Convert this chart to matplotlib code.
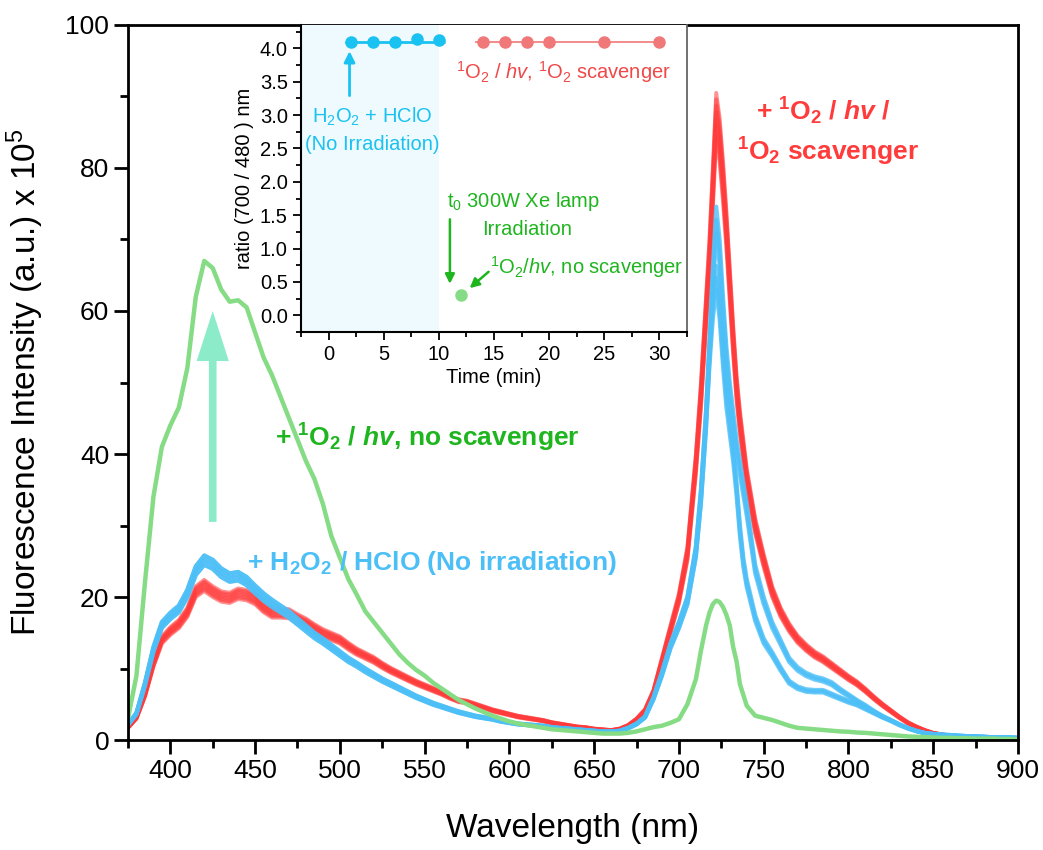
import numpy as np
import matplotlib
matplotlib.use('Agg')
import matplotlib.pyplot as plt
from matplotlib.ticker import MultipleLocator, FormatStrFormatter
from matplotlib.patches import FancyArrow

plt.rcParams['font.family'] = ['Liberation Sans', 'DejaVu Sans']
plt.rcParams['mathtext.fontset'] = 'custom'
plt.rcParams['mathtext.rm'] = 'Liberation Sans'
plt.rcParams['mathtext.it'] = 'Liberation Sans:italic'
plt.rcParams['mathtext.bf'] = 'Liberation Sans:bold'
plt.rcParams['mathtext.bfit'] = 'Liberation Sans:italic:bold'

# wavelength grid (nm), finer around the 722 nm band
wl = (list(range(375, 711, 5))
      + [713, 716, 718, 720, 722, 724, 726, 728, 730, 732, 734, 736, 738, 740]
      + list(range(745, 901, 5)))

# + 1O2 / hv / 1O2 scavenger (highest scan of the red group)
red_top = [1.8, 3.2, 6.5, 11, 14.5, 15.8, 16.8, 18.5, 21.5, 22.4,
           21.5, 20.8, 20.6, 21.2, 21.0, 20.4, 19.2, 18.4, 18.4, 18.3,
           17.6, 17.0, 16.2, 15.5, 15.0, 14.5, 13.6, 12.8, 12.2, 11.6,
           10.8, 10.1, 9.5, 8.9, 8.3, 7.8, 7.3, 6.8, 6.2, 5.7,
           5.5, 5.1, 4.7, 4.3, 4.0, 3.7, 3.4, 3.2, 3.0, 2.8,
           2.5, 2.3, 2.1, 1.9, 1.8, 1.6, 1.5, 1.4, 1.6, 2.1,
           3.0, 4.3, 7.0, 11.5, 16, 20.5, 27, 40,
           50, 62, 70, 80, 90.5, 87, 81, 74, 66, 58, 51, 46, 42, 38,
           31, 26, 21.5, 18.5, 16.3, 14.6, 13.4, 12.4, 11.7, 10.8,
           9.9, 9.0, 8.2, 7.2, 6.1, 5.1, 4.2, 3.3, 2.5, 1.9,
           1.4, 1.0, 0.8, 0.6, 0.5, 0.45, 0.4, 0.35, 0.3, 0.3, 0.25, 0.2]
# relative intensity of the repeated red scans
red_scan_scale = [1.00, 0.99, 0.98, 0.97, 0.96, 0.95, 0.94, 0.93]

# + H2O2 / HClO, no irradiation: common part 375-716 nm
blue_left = [2.2, 3.8, 8, 13, 16.5, 17.8, 18.8, 21, 24.3, 25.8,
             25.2, 24, 23.3, 23.5, 22.8, 21.6, 20.5, 19.6, 18.8, 18,
             17, 16, 15, 14.2, 13.3, 12.4, 11.5, 10.8, 10, 9.3,
             8.6, 8.0, 7.4, 6.8, 6.2, 5.7, 5.2, 4.8, 4.4, 4.0,
             3.7, 3.4, 3.2, 3.0, 2.7, 2.5, 2.3, 2.2, 2.1, 2.0,
             1.8, 1.7, 1.6, 1.5, 1.4, 1.3, 1.2, 1.2, 1.3, 1.7,
             2.3, 3.3, 6.0, 9.5, 13.5, 16.5, 20, 27,
             35, 46]
# two blue scans, 718-900 nm
blue_a_tail = [56, 66, 74.6, 70, 62, 55, 50, 46, 42, 39, 36, 33,
               24.5, 20, 16.5, 14, 11.5, 10.2, 9.4, 8.9, 8.6, 8.1,
               7.2, 6.4, 5.6, 4.9, 4.1, 3.4, 2.8, 2.2, 1.7, 1.3,
               1.0, 0.85, 0.75, 0.7, 0.6, 0.55, 0.5, 0.45, 0.4, 0.4, 0.35, 0.3]
blue_b_tail = [55, 62, 66.3, 62, 55, 49, 45, 41, 36, 30, 25.5, 22.5,
               17.5, 14.2, 12.3, 10.2, 8.3, 7.5, 7.1, 7.0, 7.0, 6.5,
               6.0, 5.5, 5.1, 4.5, 3.9, 3.3, 2.8, 2.2, 1.7, 1.3,
               1.0, 0.85, 0.75, 0.7, 0.6, 0.55, 0.5, 0.45, 0.4, 0.4, 0.35, 0.3]
blue_scan_scale = [1.0, 0.975, 0.95]

# + 1O2 / hv, no scavenger
green = [3.0, 9, 22, 34, 41, 44, 46.5, 52, 62, 67,
         66, 63, 61.3, 61.5, 60.5, 57, 53.5, 51, 48, 45,
         42, 39, 36.5, 33, 28.5, 25.5, 22.5, 20.3, 18, 16.5,
         15, 13.5, 12, 10.8, 9.8, 9, 8, 7.2, 6.4, 5.6,
         5, 4.4, 3.9, 3.4, 3.0, 2.6, 2.3, 2.1, 1.9, 1.7,
         1.5, 1.4, 1.3, 1.2, 1.1, 1.0, 0.9, 0.9, 0.9, 1.0,
         1.2, 1.5, 1.8, 2.0, 2.4, 2.9, 5, 8.5,
         12.5, 16, 17.8, 19, 19.5, 19.3, 18.6, 17.5, 16, 13, 11, 7.8, 6.3, 4.8,
         3.4, 3.1, 2.8, 2.4, 2.0, 1.7, 1.6, 1.5, 1.4, 1.3,
         1.2, 1.15, 1.05, 1.0, 0.9, 0.8, 0.7, 0.6, 0.5, 0.45,
         0.4, 0.35, 0.3, 0.3, 0.25, 0.25, 0.2, 0.2, 0.2, 0.15, 0.15, 0.1]

# inset: ratio (700/480) vs time
t_blue = [2, 4, 6, 8, 10]
r_blue = [4.10, 4.09, 4.09, 4.14, 4.13]
t_red = [14, 16, 18, 20, 25, 30]
r_red = [4.09, 4.09, 4.09, 4.09, 4.09, 4.09]
t_green = [12]
r_green = [0.3]

RED = '#ff3b3b'
BLUE = '#4dbff7'
GREEN = '#85dc85'

fig = plt.figure(figsize=(10.43, 8.5), dpi=100)
ax = fig.add_axes([0.1227, 0.1294, 0.8533, 0.8412])

wl_arr = np.array(wl)
for s in red_scan_scale:
    ax.plot(wl_arr, np.array(red_top) * s, color=RED, lw=2.8, alpha=0.55,
            solid_joinstyle='round')
for s in blue_scan_scale:
    ax.plot(wl_arr, np.array(blue_left + blue_a_tail) * s, color=BLUE, lw=3, alpha=0.8,
            solid_joinstyle='round')
    ax.plot(wl_arr, np.array(blue_left + blue_b_tail) * s, color=BLUE, lw=3, alpha=0.8,
            solid_joinstyle='round')
ax.plot(wl_arr, green, color=GREEN, lw=3.2, solid_joinstyle='round')

ax.add_patch(FancyArrow(425, 30.5, 0, 29.5, width=4.5, head_width=19, head_length=7,
                        length_includes_head=True, color='#3fe0a8', alpha=0.6, lw=0))

ax.text(462, 42.2, r'+ $\mathbf{{}^{1}O_{2}}$ / $\mathbfit{hv}$, no scavenger',
        color='#1fb51f', fontsize=19, fontweight='bold', va='center', ha='left')
ax.text(445, 24.8, r'+ $\mathbf{H_{2}O_{2}}$ / HClO (No irradiation)',
        color=BLUE, fontsize=19, fontweight='bold', va='center', ha='left')
ax.text(785, 87.9, r'+ $\mathbf{{}^{1}O_{2}}$ / $\mathbfit{hv}$ /',
        color=RED, fontsize=19, fontweight='bold', va='center', ha='center')
ax.text(788, 82.3, r'$\mathbf{{}^{1}O_{2}}$ scavenger',
        color=RED, fontsize=19, fontweight='bold', va='center', ha='center')

ax.set_xlim(375, 900)
ax.set_ylim(0, 100)
ax.xaxis.set_major_locator(MultipleLocator(50))
ax.xaxis.set_minor_locator(MultipleLocator(25))
ax.yaxis.set_major_locator(MultipleLocator(20))
ax.yaxis.set_minor_locator(MultipleLocator(10))
ax.tick_params(which='both', direction='out', width=2, labelsize=19, top=False, right=False)
ax.tick_params(which='major', length=10)
ax.tick_params(which='minor', length=6)
for sp in ax.spines.values():
    sp.set_linewidth(2)
ax.set_xlabel('Wavelength (nm)', fontsize=24, labelpad=22)
ax.set_ylabel(r'Fluorescence Intensity (a.u.) x 10$^{5}$', fontsize=24, labelpad=14)

# inset
ins = fig.add_axes([0.2886, 0.6094, 0.3701, 0.3612])
ins.axvspan(-2.5, 10, color='#eefafd', lw=0)
ins.hlines(4.10, 1.5, 10.6, color='#19c2f0', lw=2)
ins.plot(t_blue, r_blue, 'o', color='#19c2f0', ms=8)
ins.hlines(4.09, 13.3, 30.4, color='#f07878', lw=1.2)
ins.plot(t_red, r_red, 'o', color='#f07878', ms=8)
ins.plot(t_green, r_green, 'o', color='#86dc86', ms=8)

ins.annotate('', xy=(1.9, 4.0), xytext=(1.9, 3.25),
             arrowprops=dict(arrowstyle='-|>', color='#19c2f0', lw=2, mutation_scale=16))
ins.text(4.0, 2.98, r'$\mathrm{H_{2}O_{2}}$ + HClO', color='#19c2f0', fontsize=14.5,
         ha='center', va='center')
ins.text(4.0, 2.56, '(No Irradiation)', color='#19c2f0', fontsize=14.5, ha='center', va='center')
ins.text(21.3, 3.64, r'$\mathrm{{}^{1}O_{2}}$ / $\mathit{hv}$, $\mathrm{{}^{1}O_{2}}$ scavenger',
         color='#f04848', fontsize=14.5, ha='center', va='center')
ins.text(10.7, 1.71, r't$_{0}$ 300W Xe lamp', color='#1fb51f', fontsize=14.5, ha='left', va='center')
ins.text(18.0, 1.28, 'Irradiation', color='#1fb51f', fontsize=14.5, ha='center', va='center')
ins.text(14.6, 0.73, r'$\mathrm{{}^{1}O_{2}}$/$\mathit{hv}$, no scavenger', color='#1fb51f',
         fontsize=14.5, ha='left', va='center')
ins.annotate('', xy=(11.0, 0.43), xytext=(11.0, 1.48),
             arrowprops=dict(arrowstyle='-|>', color='#1fb51f', lw=1.8, mutation_scale=14))
ins.annotate('', xy=(12.6, 0.38), xytext=(14.7, 0.68),
             arrowprops=dict(arrowstyle='-|>', color='#1fb51f', lw=1.8, mutation_scale=14))

ins.set_xlim(-2.5, 32.5)
ins.set_ylim(-0.25, 4.35)
ins.xaxis.set_major_locator(MultipleLocator(5))
ins.xaxis.set_minor_locator(MultipleLocator(2.5))
ins.yaxis.set_major_locator(MultipleLocator(0.5))
ins.yaxis.set_minor_locator(MultipleLocator(0.25))
ins.yaxis.set_major_formatter(FormatStrFormatter('%.1f'))
ins.tick_params(which='both', direction='out', width=1.3, labelsize=14.5)
ins.tick_params(which='major', length=6)
ins.tick_params(which='minor', length=3.5)
ins.spines['left'].set_linewidth(1.5)
ins.spines['bottom'].set_linewidth(1.5)
ins.spines['right'].set_color('#666666')
ins.spines['right'].set_linewidth(1.3)
ins.spines['top'].set_visible(False)
ins.set_xlabel('Time (min)', fontsize=14.5, labelpad=3)
ins.set_ylabel('ratio (700 / 480 ) nm', fontsize=14.5, labelpad=4)

fig.savefig('out.png', dpi=100)
